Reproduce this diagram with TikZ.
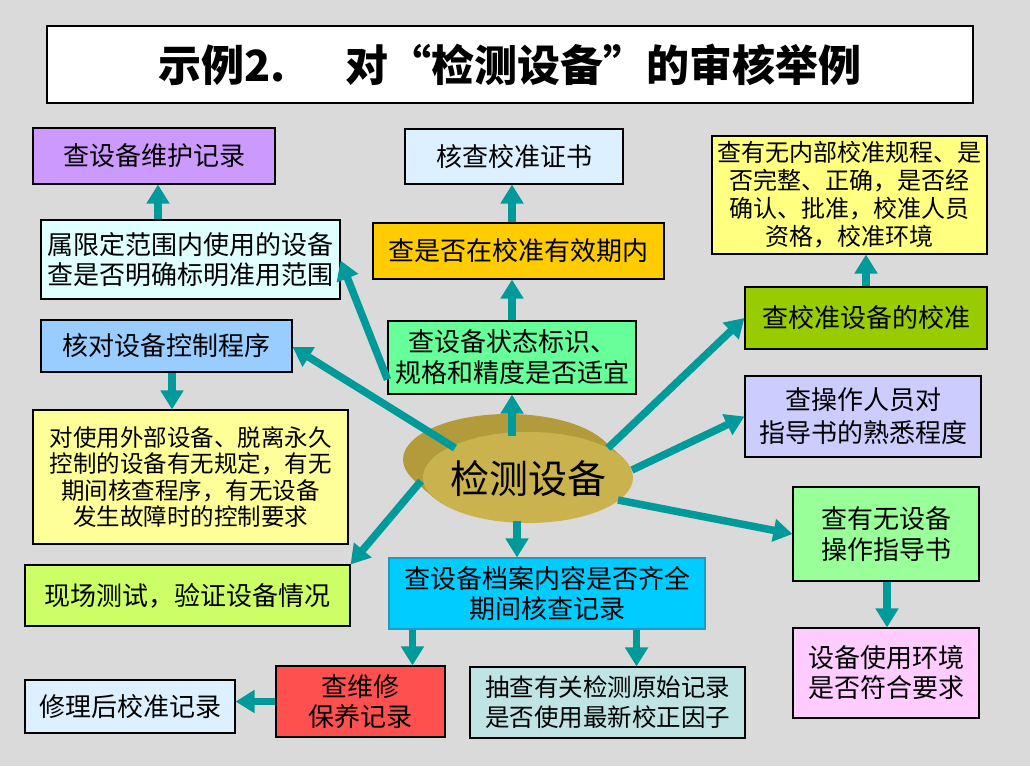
\documentclass[tikz,border=0pt]{standalone}
\usepackage{fontspec}
\setmainfont{Noto Sans CJK SC}
\usetikzlibrary{arrows.meta,shapes.geometric}
\definecolor{bgc}{HTML}{DADADA}
\definecolor{arrc}{HTML}{009A9A}
\definecolor{maintC}{HTML}{CC99FF}
\definecolor{certC}{HTML}{DDF0FF}
\definecolor{internalC}{HTML}{FFFF80}
\definecolor{limitedC}{HTML}{E0FFFF}
\definecolor{validC}{HTML}{FFCC00}
\definecolor{statusC}{HTML}{66FF99}
\definecolor{calibC}{HTML}{99CC00}
\definecolor{controlC}{HTML}{99CCFF}
\definecolor{operC}{HTML}{CCCCFF}
\definecolor{extC}{HTML}{FFFF99}
\definecolor{guideC}{HTML}{99FF99}
\definecolor{fieldC}{HTML}{CCFF66}
\definecolor{archC}{HTML}{00CCFF}
\definecolor{archB}{HTML}{1E9CC0}
\definecolor{envC}{HTML}{FFCCFF}
\definecolor{repairC}{HTML}{FF5050}
\definecolor{recalC}{HTML}{DDF0FF}
\definecolor{sampleC}{HTML}{C0E4E4}
\definecolor{discTop}{HTML}{CAB34E}
\definecolor{discSide}{HTML}{B39B3C}
\begin{document}
\begin{tikzpicture}[x=1pt,y=-1pt,
  box/.style={draw=black,line width=1.1pt,inner sep=0pt,align=center,
    font=\fontsize{26}{31}\selectfont},
  smallbox/.style={box,font=\fontsize{24}{28}\selectfont},
  arr/.style={draw=arrc,line width=7.5pt,-{Triangle[width=22pt,length=19pt]}}]
\useasboundingbox (0,0) rectangle (1030,766);
\fill[bgc] (0,0) rectangle (1030,766);

% title
\node[draw=black,line width=1.3pt,fill=white,minimum width=926,minimum height=77,inner sep=0pt,
  font=\fontsize{43}{50}\selectfont\bfseries] (title) at (510,64.5)
  {示例2.\hspace{1.4em}对“检测设备”的审核举例};

% boxes
\node[box,fill=maintC,minimum width=242,minimum height=56] (maint) at (154,156) {查设备维护记录};
\node[box,fill=certC,minimum width=218,minimum height=55] (cert) at (514,156.5) {核查校准证书};
\node[smallbox,fill=internalC,minimum width=275,minimum height=118] (internal) at (849.5,195)
  {查有无内部校准规程、是\\否完整、正确，是否经\\确认、批准，校准人员\\资格，校准环境};
\node[box,fill=limitedC,minimum width=299,minimum height=79,font=\fontsize{26}{29.5}\selectfont] (limited) at (190.5,259.5)
  {属限定范围内使用的设备\\查是否明确标明准用范围};
\node[box,fill=validC,minimum width=291,minimum height=56] (valid) at (518.5,251) {查是否在校准有效期内};
\node[box,fill=statusC,minimum width=248,minimum height=73] (status) at (512,357.5)
  {查设备状态标识、\\规格和精度是否适宜};
\node[box,fill=calibC,minimum width=242,minimum height=62] (calib) at (866,318) {查校准设备的校准};
\node[box,fill=controlC,minimum width=251,minimum height=52] (control) at (166.5,346) {核对设备控制程序};
\node[box,fill=operC,minimum width=236,minimum height=81,font=\fontsize{26}{33}\selectfont] (oper) at (863,416.5)
  {查操作人员对\\指导书的熟悉程度};
\node[smallbox,fill=extC,minimum width=315,minimum height=134,font=\fontsize{23.5}{26.5}\selectfont] (ext) at (190.5,477)
  {对使用外部设备、脱离永久\\控制的设备有无规定，有无\\期间核查程序，有无设备\\发生故障时的控制要求};
\node[box,fill=guideC,minimum width=186,minimum height=94] (guide) at (886,534)
  {查有无设备\\操作指导书};
\node[box,fill=fieldC,minimum width=325,minimum height=61] (field) at (187.5,595.5) {现场测试，验证设备情况};
\node[box,draw=archB,fill=archC,minimum width=316,minimum height=71,font=\fontsize{26}{29.5}\selectfont] (arch) at (547,593.5)
  {查设备档案内容是否齐全\\期间核查记录};
\node[box,fill=envC,minimum width=186,minimum height=90,font=\fontsize{26}{30}\selectfont] (env) at (886,673)
  {设备使用环境\\是否符合要求};
\node[box,fill=repairC,minimum width=169,minimum height=71,font=\fontsize{26}{30}\selectfont] (repair) at (360.5,701.5)
  {查维修\\保养记录};
\node[box,fill=recalC,minimum width=210,minimum height=53] (recal) at (130,706.5) {修理后校准记录};
\node[box,fill=sampleC,minimum width=275,minimum height=71,font=\fontsize{24.5}{30}\selectfont] (sample) at (607.5,702.5)
  {抽查有关检测原始记录\\是否使用最新校正因子};

% disc
\foreach \i in {20,19,...,1}{
  \fill[discSide] ({528-\i},{477.5-0.9*\i}) ellipse [x radius=105, y radius=45.5];
}
\node[ellipse,fill=discTop,minimum width=210,minimum height=91,inner sep=0pt] (core) at (528,477.5) {};
\node[text=black,font=\fontsize{39}{40}\selectfont] (coretext) at (528,478.5) {检测设备};

% start points on the disc
\coordinate (sUp) at (512,436);
\coordinate (sCtl) at (455,448);
\coordinate (sField) at (421,481);
\coordinate (sDown) at (517,521);
\coordinate (sCal) at (608,448);
\coordinate (sOper) at (632,470);
\coordinate (sGuide) at (618,500);

% arrows from the disc
\draw[arr] (sUp) -- (sUp |- status.south);
\draw[arr] (sCtl) -- ([yshift=-1pt]control.east);
\draw[arr] (sField) -- (field.north east);
\draw[arr] (sDown) -- (sDown |- arch.north);
\draw[arr] (sCal) -- (calib.west);
\draw[arr] (sOper) -- (oper.west);
\draw[arr] (sGuide) -- (guide.west);

% other arrows
\draw[arr] (status.north) -- (status.north |- valid.south);
\draw[arr] (status.north |- valid.north) -- (status.north |- cert.south);
\draw[arr] ([yshift=-22pt]status.west) -- ([yshift=-1pt]limited.east);
\draw[arr] ([xshift=4pt]maint.south |- limited.north) -- ([xshift=4pt]maint.south);
\draw[arr] ([xshift=5.5pt]control.south) -- ([xshift=5.5pt]control.south |- ext.north);
\draw[arr] ([xshift=24pt]arch.south west) -- ([xshift=24pt]arch.south west |- repair.north);
\draw[arr] ([xshift=-69pt]arch.south east) -- ([xshift=-69pt]arch.south east |- sample.north);
\draw[arr] (repair.west) -- (repair.west -| recal.east);
\draw[arr] (calib.north) -- (calib.north |- internal.south);
\draw[arr] ([xshift=1pt]guide.south) -- ([xshift=1pt]env.north);
\end{tikzpicture}
\end{document}
